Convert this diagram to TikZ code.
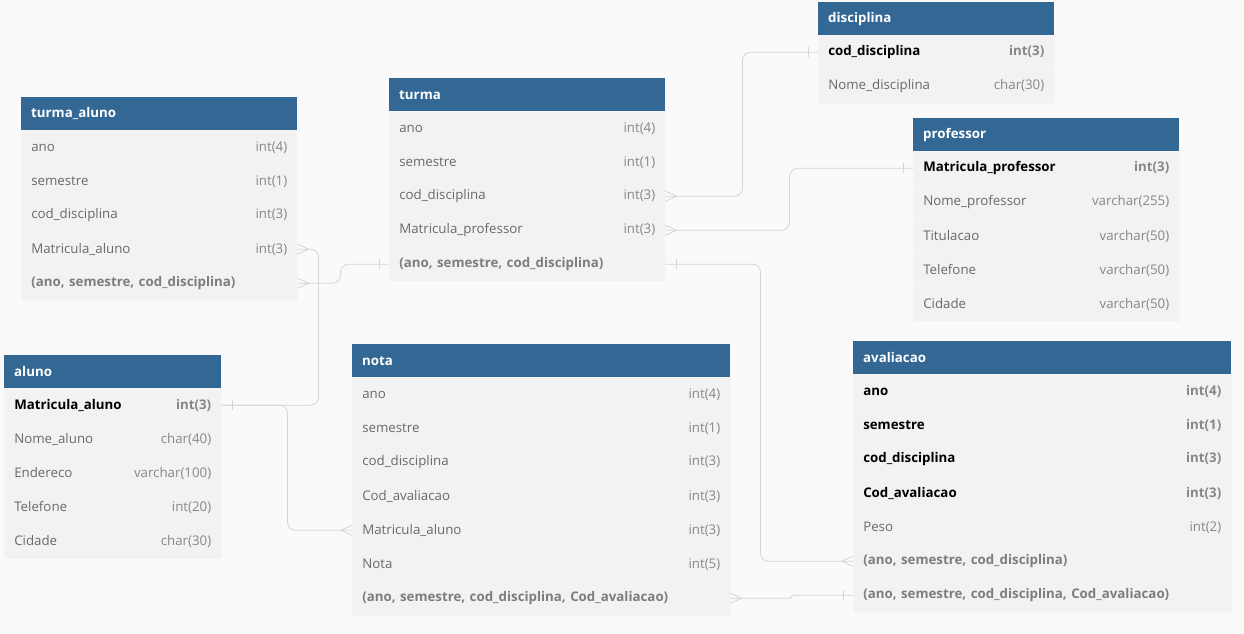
\documentclass[tikz,border=0pt]{standalone}
\usepackage{fontspec}
\setmainfont{Open Sans}
\usepackage{tikz}
\definecolor{hdr}{RGB}{51,104,149}
\definecolor{body}{RGB}{242,242,242}
\definecolor{rowline}{RGB}{246,246,246}
\definecolor{bgc}{RGB}{250,250,250}
\definecolor{lnk}{RGB}{212,212,212}
\definecolor{fldgray}{RGB}{105,105,105}
\definecolor{tgray}{RGB}{135,135,135}
\definecolor{idxgray}{RGB}{125,125,125}
\newcommand{\tabfont}{\fontsize{13.3}{15}\selectfont}
\tikzset{
  head/.style={rectangle, anchor=north west, fill=hdr, text=white, font=\tabfont\bfseries,
               minimum width=#1pt, text width=#1pt-20pt, minimum height=33pt,
               inner xsep=10pt, inner ysep=0pt},
  row/.style={rectangle, anchor=north west, fill=body, draw=rowline, line width=0.5pt,
              minimum width=#1pt, text width=#1pt-20pt, minimum height=34pt,
              inner xsep=10pt, inner ysep=0pt, font=\tabfont},
  fld/.style={text=fldgray},
  keyf/.style={text=black, font=\tabfont\bfseries},
  idxf/.style={text=idxgray, font=\tabfont\bfseries},
  conn/.style={draw=lnk, line width=0.8pt, rounded corners=8pt},
  one/.pic={\draw[lnk, line width=0.8pt] (0,-5) -- (0,5);},
  many/.pic={\draw[lnk, line width=0.8pt] (0,-5) -- (11,0) -- (0,5);},
}

\begin{document}
\begin{tikzpicture}[x=1pt, y=-1pt]
\fill[bgc] (0,0) rectangle (1244,634);

% tables
\node[head=276] (ta) at (21,97) {turma\_aluno};
\foreach \f/\t/\s [count=\i] in {ano/int(4)/fld, semestre/int(1)/fld,
    cod\_disciplina/int(3)/fld, Matricula\_aluno/int(3)/fld,
    {(ano, semestre, cod\_disciplina)}//idxf}
  \node[row=276, \s] (ta-\i) at (21,{130+34*(\i-1)}) {\f\hfill{\color{tgray}\t}};

\node[head=276] (turma) at (389,78) {turma};
\foreach \f/\t/\s [count=\i] in {ano/int(4)/fld, semestre/int(1)/fld,
    cod\_disciplina/int(3)/fld, Matricula\_professor/int(3)/fld,
    {(ano, semestre, cod\_disciplina)}//idxf}
  \node[row=276, \s] (turma-\i) at (389,{111+34*(\i-1)}) {\f\hfill{\color{tgray}\t}};

\node[head=236] (disc) at (818,2) {disciplina};
\foreach \f/\t/\s [count=\i] in {cod\_disciplina/int(3)/keyf, Nome\_disciplina/char(30)/fld}
  \node[row=236, \s] (disc-\i) at (818,{35+34*(\i-1)}) {\f\hfill{\color{tgray}\t}};

\node[head=266] (prof) at (913,118) {professor};
\foreach \f/\t/\s [count=\i] in {Matricula\_professor/int(3)/keyf,
    Nome\_professor/varchar(255)/fld, Titulacao/varchar(50)/fld,
    Telefone/varchar(50)/fld, Cidade/varchar(50)/fld}
  \node[row=266, \s] (prof-\i) at (913,{151+34*(\i-1)}) {\f\hfill{\color{tgray}\t}};

\node[head=217] (aluno) at (4,355) {aluno};
\foreach \f/\t/\s [count=\i] in {Matricula\_aluno/int(3)/keyf, Nome\_aluno/char(40)/fld,
    Endereco/varchar(100)/fld, Telefone/int(20)/fld, Cidade/char(30)/fld}
  \node[row=217, \s] (aluno-\i) at (4,{388+34*(\i-1)}) {\f\hfill{\color{tgray}\t}};

\node[head=378] (nota) at (352,344) {nota};
\foreach \f/\t/\s [count=\i] in {ano/int(4)/fld, semestre/int(1)/fld,
    cod\_disciplina/int(3)/fld, Cod\_avaliacao/int(3)/fld,
    Matricula\_aluno/int(3)/fld, Nota/int(5)/fld,
    {(ano, semestre, cod\_disciplina, Cod\_avaliacao)}//idxf}
  \node[row=378, \s] (nota-\i) at (352,{377+34*(\i-1)}) {\f\hfill{\color{tgray}\t}};

\node[head=378] (aval) at (853,341) {avaliacao};
\foreach \f/\t/\s [count=\i] in {ano/int(4)/keyf, semestre/int(1)/keyf,
    cod\_disciplina/int(3)/keyf, Cod\_avaliacao/int(3)/keyf, Peso/int(2)/fld,
    {(ano, semestre, cod\_disciplina)}//idxf,
    {(ano, semestre, cod\_disciplina, Cod\_avaliacao)}//idxf}
  \node[row=378, \s] (aval-\i) at (853,{374+34*(\i-1)}) {\f\hfill{\color{tgray}\t}};

% references
\draw[conn] (aluno-1.east) -- ++(97,0) |- (ta-4.east);
\draw[conn] (aluno-1.east) -- ++(66,0) |- (nota-5.west);
\draw[conn] (ta-5.east) -- ++(43,0) |- (turma-5.west);
\draw[conn] (turma-3.east) -- ++(77,0) |- (disc-1.west);
\draw[conn] (turma-4.east) -- ++(124,0) |- (prof-1.west);
\draw[conn] (turma-5.east) -- ++(95,0) |- (aval-6.west);
\draw[conn, rounded corners=1.5pt] (nota-7.east) -- ++(61,0) |- (aval-7.west);

\pic at ([xshift=11pt]aluno-1.east) {one};
\pic at ([xshift=-10pt]turma-5.west) {one};
\pic at ([xshift=-10pt]disc-1.west) {one};
\pic at ([xshift=-10pt]prof-1.west) {one};
\pic at ([xshift=11pt]turma-5.east) {one};
\pic at ([xshift=-10pt]aval-7.west) {one};
\pic at (ta-4.east) {many};
\pic at (ta-5.east) {many};
\pic at (turma-3.east) {many};
\pic at (turma-4.east) {many};
\pic at (nota-7.east) {many};
\pic[xscale=-1] at (aval-6.west) {many};
\pic[xscale=-1] at (nota-5.west) {many};
\end{tikzpicture}
\end{document}
